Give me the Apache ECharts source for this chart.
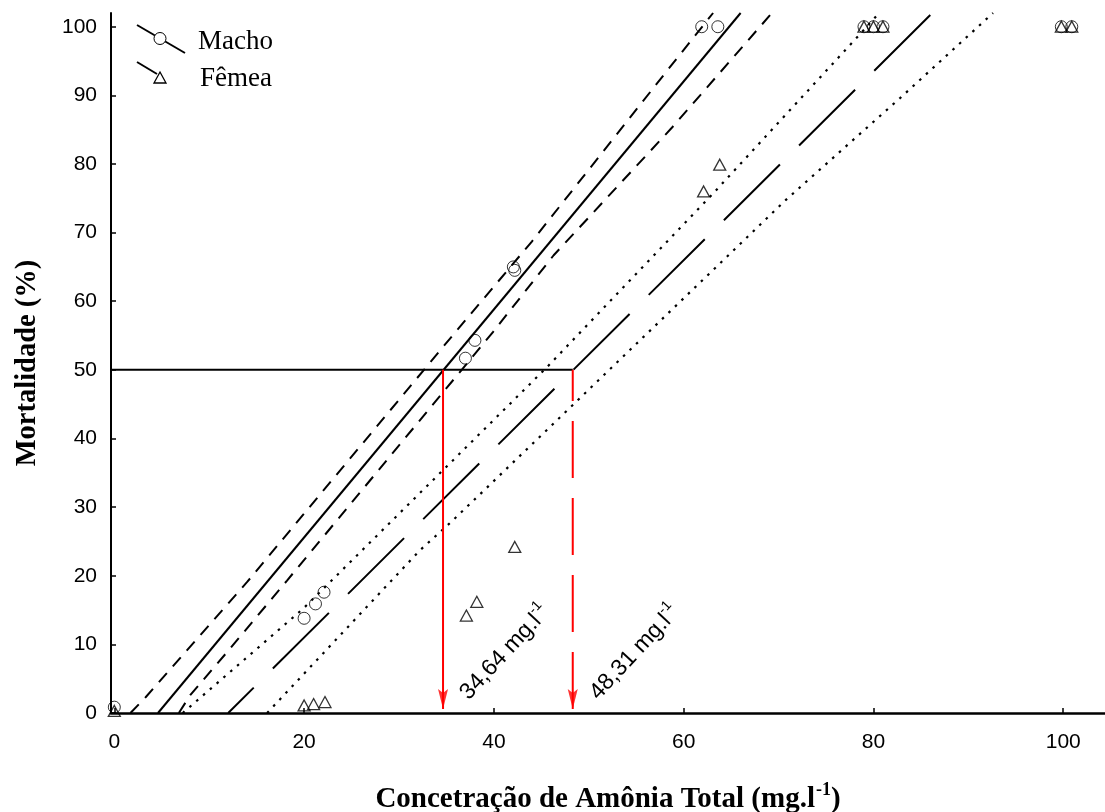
<!DOCTYPE html>
<html><head><meta charset="utf-8">
<script src="https://cdn.jsdelivr.net/npm/echarts@6/dist/echarts.min.js"></script>
<style>html,body{margin:0;padding:0;background:#fff}#c{width:1105px;height:812px}</style>
</head><body><div id="c"></div>
<script>
// ---- data ----
const xTicks = [0, 20, 40, 60, 80, 100];
const yTicks = [0, 10, 20, 30, 40, 50, 60, 70, 80, 90, 100];
const xMin = -0.35, xMax = 104.4, yMin = 0, yMax = 102;

const machoX = [0, 20, 21.2, 22.1, 37, 38, 42.05, 42.2, 61.9, 63.6, 79, 80, 81, 99.8, 100.9];
const machoY = [0.85, 13.8, 15.9, 17.6, 51.7, 54.3, 65.0, 64.5, 100, 100, 100, 100, 100, 100, 100];
const femeaX = [0, 20, 21, 22.2, 37.1, 38.2, 42.2, 62.1, 63.8, 79, 80, 81, 99.8, 100.9];
const femeaY = [0.3, 1.1, 1.3, 1.6, 14.2, 16.2, 24.2, 76.0, 79.9, 100, 100, 100, 100, 100];

const machoFitX = [4.6, 66.0];
const machoFitY = [0, 102];
const machoUpX = [1.7, 3.3, 14.0, 35.7, 44.0, 58.2, 63.1];
const machoUpY = [0, 2.3, 19.1, 55.1, 68.7, 93.5, 102];
const machoLoX = [6.8, 8.0, 11.9, 18.2, 39.9, 46.3, 58.7, 69.3];
const machoLoY = [0, 2.6, 8.9, 19.3, 55.5, 66.7, 85.2, 102];

const femeaFitX = [12.0, 86.2];
const femeaFitY = [0, 102];
const femeaUpX = [7.2, 19.9, 45.6, 63.1, 78.7, 80.6];
const femeaUpY = [0, 15.2, 50.4, 75.7, 99.1, 102];
const femeaLoX = [16.1, 32.2, 35.7, 70.8, 82.8, 92.6];
const femeaLoY = [0, 23.7, 28.1, 74.8, 89.6, 102];

const lc50 = [34.64, 48.31];
const lc50Text = ['34,64', '48,31'];
const refMortality = 50;
const arrowTipY = 0.6;

const zip = (xs, ys) => xs.map((x, i) => [x, ys[i]]);

const chart = echarts.init(document.getElementById('c'), null, {renderer: 'canvas'});

function lineSeries(name, data, type, width, color, dashOffset) {
  return {
    name, type: 'line', data, symbol: 'none', silent: true, animation: false,
    lineStyle: {color: color || '#000', width: width || 2, type: type || 'solid', dashOffset: dashOffset || 0},
    z: 3
  };
}

const option = {
  animation: false,
  backgroundColor: '#fff',
  grid: {left: 111, right: 0, top: 13, bottom: 99, containLabel: false, outerBoundsMode: 'none'},
  xAxis: {
    type: 'value', min: xMin, max: xMax,
    axisLine: {show: true, onZero: false, lineStyle: {color: '#000', width: 2.5}},
    axisTick: {show: true, inside: true, length: 5, customValues: xTicks, lineStyle: {color: '#000', width: 1.5}},
    axisLabel: {customValues: xTicks, fontSize: 21, color: '#000', fontFamily: 'Liberation Sans', margin: 19},
    splitLine: {show: false},
    name: '{t|Concetração de Amônia Total (mg.l}{s|-1}{t|)}',
    nameLocation: 'middle', nameGap: 68,
    nameTextStyle: {
      rich: {
        t: {fontFamily: 'Liberation Serif', fontWeight: 'bold', fontSize: 29, color: '#000', lineHeight: 33, verticalAlign: 'bottom'},
        s: {fontFamily: 'Liberation Serif', fontWeight: 'bold', fontSize: 18, color: '#000', lineHeight: 33, verticalAlign: 'top', padding: [0, 0, 0, 1]}
      }
    }
  },
  yAxis: {
    type: 'value', min: yMin, max: yMax,
    axisLine: {show: true, onZero: false, lineStyle: {color: '#000', width: 2}},
    axisTick: {show: true, inside: true, length: 5, customValues: yTicks, lineStyle: {color: '#000', width: 1.5}},
    axisLabel: {customValues: yTicks, fontSize: 21, color: '#000', fontFamily: 'Liberation Sans', margin: 14},
    splitLine: {show: false},
    name: 'Mortalidade (%)', nameLocation: 'middle', nameGap: 69, nameRotate: 90,
    nameTextStyle: {fontFamily: 'Liberation Serif', fontWeight: 'bold', fontSize: 28.5, color: '#000'}
  },
  series: [
    lineSeries('ref50', [[xMin, refMortality], [lc50[1], refMortality]], 'solid', 2),
    lineSeries('Macho ajuste', zip(machoFitX, machoFitY), 'solid', 2),
    lineSeries('Macho IC sup', zip(machoUpX, machoUpY), [12, 9], 2),
    lineSeries('Macho IC inf', zip(machoLoX, machoLoY), [12, 9], 2),
    lineSeries('Fêmea ajuste', zip(femeaFitX, femeaFitY), [79, 27], 2, '#000', 43),
    lineSeries('Fêmea IC sup', zip(femeaUpX, femeaUpY), [2.5, 6.5], 2.2),
    lineSeries('Fêmea IC inf', zip(femeaLoX, femeaLoY), [2.5, 6.5], 2.2),
    lineSeries('CL50 macho', [[lc50[0], arrowTipY], [lc50[0], refMortality]], 'solid', 2, '#f00'),
    lineSeries('CL50 fêmea', [[lc50[1], arrowTipY], [lc50[1], refMortality]], [57, 20], 2, '#f00'),
    {
      name: 'arrows', type: 'scatter', silent: true, z: 4,
      data: lc50.map(v => [v, arrowTipY]),
      symbol: 'path://M0,0 L5,4 L10,0 L5,20 Z', symbolSize: [10, 20], symbolOffset: [0, '-50%'],
      itemStyle: {color: '#f00'}
    },
    {
      name: 'CL50 rótulos', type: 'scatter', silent: true, z: 5,
      data: lc50.map(v => [v, yMin]),
      symbol: 'circle', symbolSize: 0, itemStyle: {color: '#000', opacity: 1},
      label: {
        show: true, position: 'inside', rotate: 47, align: 'left', verticalAlign: 'bottom',
        offset: [26.5, 15.5], color: '#000', textBorderWidth: 0, opacity: 1,
        formatter: p => '{t|' + lc50Text[p.dataIndex] + ' mg.l}{s|-1}',
        rich: {
          t: {fontFamily: 'Liberation Sans', fontSize: 23, color: '#000', lineHeight: 27, verticalAlign: 'bottom', textBorderWidth: 0},
          s: {fontFamily: 'Liberation Sans', fontSize: 14, color: '#000', lineHeight: 27, verticalAlign: 'top', textBorderWidth: 0}
        }
      }
    },
    {
      name: 'Macho', type: 'scatter', data: zip(machoX, machoY), symbol: 'circle', symbolSize: 12, z: 2,
      itemStyle: {color: 'rgba(255,255,255,0)', borderColor: '#000', borderWidth: 1}
    },
    {
      name: 'Fêmea', type: 'scatter', data: zip(femeaX, femeaY), symbol: 'triangle', symbolSize: [12, 11], z: 2,
      itemStyle: {color: 'rgba(255,255,255,0)', borderColor: '#000', borderWidth: 1.3}
    }
  ],
  graphic: [
    {type: 'line', shape: {x1: 137, y1: 25, x2: 185, y2: 53}, style: {stroke: '#000', lineWidth: 2}},
    {type: 'circle', shape: {cx: 160, cy: 38.5, r: 6}, style: {fill: '#fff', stroke: '#000', lineWidth: 1}},
    {type: 'text', left: 198, top: 28, style: {text: 'Macho', font: '27px "Liberation Serif"', fill: '#000', letterSpacing: 1}},
    {type: 'line', shape: {x1: 137, y1: 62, x2: 157, y2: 74}, style: {stroke: '#000', lineWidth: 2}},
    {type: 'polygon', shape: {points: [[160, 72], [166, 83], [154, 83]]}, style: {fill: '#fff', stroke: '#000', lineWidth: 1.3}},
    {type: 'text', left: 200, top: 65, style: {text: 'Fêmea', font: '27px "Liberation Serif"', fill: '#000'}}
  ]
};
chart.setOption(option);
</script>
</body></html>
